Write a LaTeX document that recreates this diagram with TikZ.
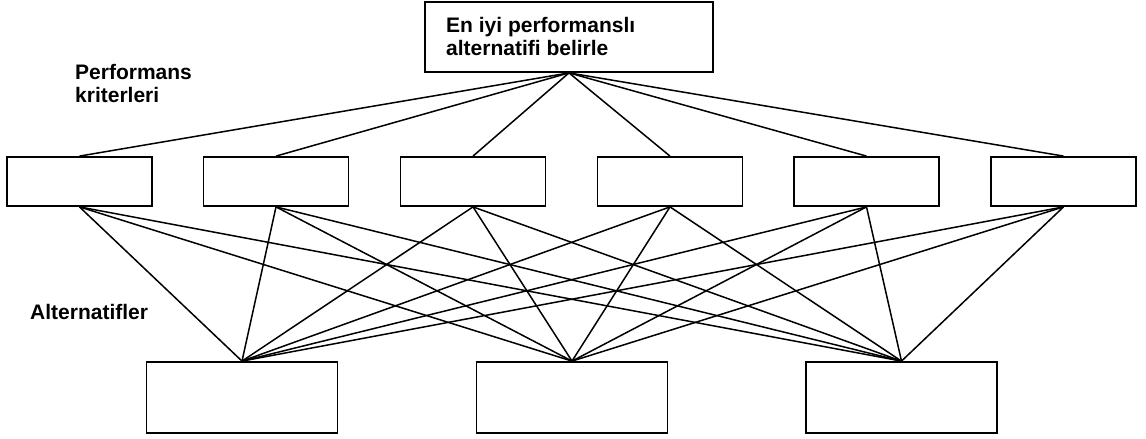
\documentclass[tikz,border=0pt]{standalone}
\usepackage{fontspec}
\setmainfont{Liberation Sans}
\begin{document}
\begin{tikzpicture}[x=1pt,y=-1pt,
  box/.style={draw,line width=1.8pt,inner sep=0pt,minimum height=#1},
  crit/.style={box=49pt,minimum width=145pt},
  alt/.style={box=71pt,minimum width=191pt},
  link/.style={line width=1.5pt},
  lbl/.style={inner sep=0pt,align=left,font=\bfseries\fontsize{21}{23}\selectfont}]
\useasboundingbox (0,0) rectangle (1146,439);
\node[box=70pt,minimum width=288pt] (top) at (569,37) {};
\node[lbl,anchor=north west] (toptxt) at (446,17) {En iyi performanslı\\alternatifi belirle};
\node[lbl,anchor=north west] (pk) at (75,64) {Performans\\kriterleri};
\node[lbl,anchor=north west] (al) at (30,304.5) {Alternatifler};
\node[crit] (c1) at (79.5,181.5) {};
\node[crit] (c2) at (276,181.5) {};
\node[crit] (c3) at (473,181.5) {};
\node[crit] (c4) at (670,181.5) {};
\node[crit] (c5) at (866.5,181.5) {};
\node[crit] (c6) at (1063.5,181.5) {};
\node[alt] (a1) at (242,397.5) {};
\node[alt] (a2) at (572,397.5) {};
\node[alt] (a3) at (901.5,397.5) {};
\foreach \i in {1,...,6}{
  \draw[link] (top.south) -- (c\i.north);
  \foreach \j in {1,2,3}{
    \draw[link] (c\i.south) -- (a\j.north);
  }
}
\end{tikzpicture}
\end{document}
